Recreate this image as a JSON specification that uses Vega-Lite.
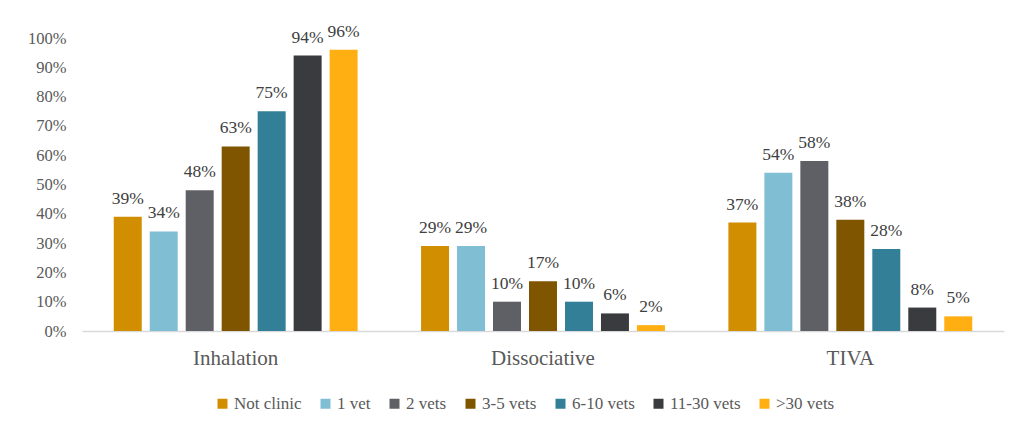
{
  "$schema": "https://vega.github.io/schema/vega-lite/v6.json",
  "width": 922,
  "height": 293,
  "autosize": "none",
  "padding": {"left": 82, "top": 38, "right": 12, "bottom": 93},
  "background": "white",
  "config": {
    "view": {"stroke": null},
    "font": "'Liberation Serif', 'DejaVu Serif', serif",
    "axis": {"labelFont": "'Liberation Serif', 'DejaVu Serif', serif"},
    "legend": {"labelFont": "'Liberation Serif', 'DejaVu Serif', serif"},
    "text": {"font": "'Liberation Serif', 'DejaVu Serif', serif"}
  },
  "data": {
    "values": [
      {"category": "Inhalation", "group": "Not clinic", "value": 0.39},
      {"category": "Inhalation", "group": "1 vet", "value": 0.34},
      {"category": "Inhalation", "group": "2 vets", "value": 0.48},
      {"category": "Inhalation", "group": "3-5 vets", "value": 0.63},
      {"category": "Inhalation", "group": "6-10 vets", "value": 0.75},
      {"category": "Inhalation", "group": "11-30 vets", "value": 0.94},
      {"category": "Inhalation", "group": ">30 vets", "value": 0.96},
      {"category": "Dissociative", "group": "Not clinic", "value": 0.29},
      {"category": "Dissociative", "group": "1 vet", "value": 0.29},
      {"category": "Dissociative", "group": "2 vets", "value": 0.10},
      {"category": "Dissociative", "group": "3-5 vets", "value": 0.17},
      {"category": "Dissociative", "group": "6-10 vets", "value": 0.10},
      {"category": "Dissociative", "group": "11-30 vets", "value": 0.06},
      {"category": "Dissociative", "group": ">30 vets", "value": 0.02},
      {"category": "TIVA", "group": "Not clinic", "value": 0.37},
      {"category": "TIVA", "group": "1 vet", "value": 0.54},
      {"category": "TIVA", "group": "2 vets", "value": 0.58},
      {"category": "TIVA", "group": "3-5 vets", "value": 0.38},
      {"category": "TIVA", "group": "6-10 vets", "value": 0.28},
      {"category": "TIVA", "group": "11-30 vets", "value": 0.08},
      {"category": "TIVA", "group": ">30 vets", "value": 0.05}
    ]
  },
  "encoding": {
    "x": {
      "field": "category",
      "type": "nominal",
      "sort": ["Inhalation", "Dissociative", "TIVA"],
      "scale": {"paddingInner": 0.2065, "paddingOuter": 0.1033},
      "axis": {
        "title": null,
        "labelAngle": 0,
        "labelFontSize": 21,
        "labelColor": "#595959",
        "labelPadding": 16,
        "ticks": false,
        "domainColor": "#D9D9D9",
        "domainWidth": 1.5
      }
    },
    "xOffset": {
      "field": "group",
      "type": "nominal",
      "sort": ["Not clinic", "1 vet", "2 vets", "3-5 vets", "6-10 vets", "11-30 vets", ">30 vets"],
      "scale": {"paddingInner": 0.222, "paddingOuter": 0}
    },
    "y": {
      "field": "value",
      "type": "quantitative",
      "scale": {"domain": [0, 1], "nice": false},
      "axis": {
        "title": null,
        "values": [0, 0.1, 0.2, 0.3, 0.4, 0.5, 0.6, 0.7, 0.8, 0.9, 1.0],
        "format": ".0%",
        "domain": false,
        "ticks": false,
        "grid": false,
        "labelFontSize": 16.5,
        "labelColor": "#595959",
        "labelPadding": 16
      }
    }
  },
  "layer": [
    {
      "mark": {"type": "bar"},
      "encoding": {
        "color": {
          "field": "group",
          "type": "nominal",
          "scale": {
            "domain": ["Not clinic", "1 vet", "2 vets", "3-5 vets", "6-10 vets", "11-30 vets", ">30 vets"],
            "range": ["#D18E00", "#80BED4", "#5F6065", "#7F5500", "#337F97", "#3A3B3E", "#FFAF12"]
          },
          "legend": {
            "title": null,
            "orient": "none",
            "direction": "horizontal",
            "legendX": 132,
            "legendY": 357,
            "symbolType": "square",
            "symbolSize": 100,
            "symbolStrokeWidth": 0,
            "labelFontSize": 17,
            "labelColor": "#595959",
            "labelOffset": 3,
            "columnPadding": 15
          }
        }
      }
    },
    {
      "mark": {"type": "text", "dy": -13, "baseline": "alphabetic", "fontSize": 17.5, "color": "#404040"},
      "encoding": {
        "text": {"field": "value", "type": "quantitative", "format": ".0%"}
      }
    }
  ]
}
